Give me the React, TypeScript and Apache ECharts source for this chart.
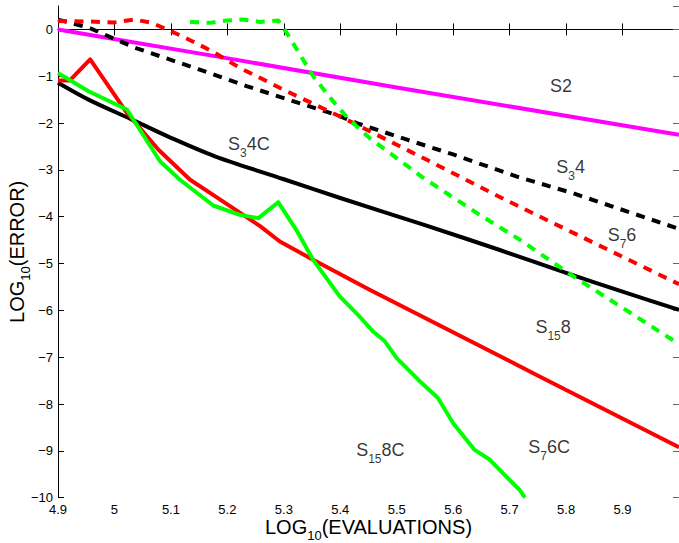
import React, { useEffect, useRef } from "react";
import * as echarts from "echarts";

// x axis (log10 evaluations) and y axis (log10 error) ranges
const X_MIN = 4.9;
const X_MAX = 6.0;
const X_STEP = 0.1;
const Y_MIN = -10;
const Y_MAX = 0.5;
const Y_STEP = 1;

// series: [log10(evaluations), log10(error)]
const S2 = [[4.9, 0.0], [5.178, -0.57], [5.5, -1.24], [6.0, -2.25]];
const S3_4C = [
  [4.9, -1.14], [4.954, -1.5], [5.03, -1.92], [5.101, -2.32], [5.178, -2.71],
  [5.3, -3.2], [5.4, -3.6], [5.55, -4.18], [5.68, -4.7], [5.8, -5.2], [5.9, -5.6], [6.0, -5.99],
];
const S7_6C = [
  [4.9, -1.09], [4.921, -1.09], [4.957, -0.64], [5.022, -1.78], [5.078, -2.57],
  [5.134, -3.21], [5.178, -3.56], [5.258, -4.2], [5.293, -4.53], [5.346, -4.88],
  [5.452, -5.56], [5.753, -7.41], [6.0, -8.92],
];
const S15_8C = [
  [4.9, -0.93], [4.954, -1.32], [5.022, -1.71], [5.081, -2.82], [5.116, -3.21],
  [5.175, -3.76], [5.222, -3.96], [5.255, -4.03], [5.29, -3.69], [5.322, -4.28],
  [5.352, -4.92], [5.399, -5.7], [5.434, -6.13], [5.458, -6.45], [5.479, -6.66],
  [5.5, -7.02], [5.538, -7.48], [5.573, -7.87], [5.6, -8.41], [5.638, -8.98],
  [5.665, -9.19], [5.694, -9.55], [5.718, -9.84], [5.727, -10.0],
];
const S3_4 = [
  [4.9, 0.21], [4.954, 0.04], [5.036, -0.39], [5.095, -0.63], [5.151, -0.86],
  [5.234, -1.21], [5.316, -1.53], [5.399, -1.85], [5.429, -2.0], [5.517, -2.35],
  [5.6, -2.67], [5.712, -3.14], [5.81, -3.49], [6.0, -4.26],
];
const S7_6 = [
  [4.9, 0.18], [4.95, 0.17], [5.0, 0.15], [5.036, 0.21], [5.066, 0.14],
  [5.119, -0.14], [5.172, -0.46], [5.222, -0.82], [5.305, -1.32], [5.405, -1.89],
  [5.458, -2.21], [5.564, -2.85], [5.691, -3.63], [5.899, -4.85], [6.0, -5.44],
];
const S15_8 = [
  [5.134, 0.16], [5.169, 0.14], [5.199, 0.19], [5.228, 0.21], [5.258, 0.16],
  [5.29, 0.19], [5.305, -0.07], [5.352, -1.0], [5.387, -1.53], [5.408, -1.82],
  [5.429, -2.07], [5.452, -2.32], [5.547, -3.17], [5.647, -3.96], [5.718, -4.49],
  [5.81, -5.25], [6.0, -6.72],
];

// curve annotations
const LABEL_TEXTS = [
  "{m|S2}",
  "{m|S}{s|3}{m|4}",
  "{m|S}{s|7}{m|6}",
  "{m|S}{s|15}{m|8}",
  "{m|S}{s|15}{m|8C}",
  "{m|S}{s|7}{m|6C}",
  "{m|S}{s|3}{m|4C}",
];
const LABEL_POS = [
  [5.791, -1.28],
  [5.808, -3.01],
  [5.899, -4.45],
  [5.777, -6.41],
  [5.471, -9.05],
  [5.77, -8.98],
  [5.238, -2.51],
];

const FONT = "'Liberation Sans', Arial, Helvetica, sans-serif";
const DASH = [9, 7.5];

const rich = {
  m: { fontSize: 18, lineHeight: 18, padding: [0, 0, 6, 0], verticalAlign: "bottom", color: "#000", fontFamily: FONT },
  s: { fontSize: 12, lineHeight: 12, verticalAlign: "bottom", color: "#000", fontFamily: FONT },
};
const nameRich = {
  m: { fontSize: 20, lineHeight: 20, padding: [0, 0, 5, 0], verticalAlign: "bottom", color: "#000", fontFamily: FONT },
  s: { fontSize: 13, lineHeight: 13, verticalAlign: "bottom", color: "#000", fontFamily: FONT },
};

function lineSeries(data: number[][], color: string, dashed: boolean, z: number, smooth = 0) {
  return {
    type: "line",
    data,
    symbol: "none",
    z,
    smooth,
    lineStyle: { color, width: 4, type: dashed ? DASH : "solid", cap: "butt", join: "round" },
  };
}

export default function App() {
  const ref = useRef<HTMLDivElement>(null);
  useEffect(() => {
    if (!ref.current) return;
    const chart = echarts.init(ref.current, null, { renderer: "svg" });
    const fmtY = (v: number) => (v < 0 ? "\u2212" + Math.abs(v) : String(v));
    const tickCommon = { show: true, inside: true, length: 6, lineStyle: { color: "#000", width: 1 } };
    chart.setOption({
      animation: false,
      backgroundColor: "#fff",
      grid: { left: 58, right: 0, top: 6, bottom: 45.3, containLabel: false, outerBoundsMode: "none" },
      xAxis: [
        {
          type: "value",
          min: X_MIN,
          max: X_MAX,
          interval: X_STEP,
          splitLine: { show: false },
          axisLine: { show: true, lineStyle: { color: "#000", width: 1 } },
          axisTick: tickCommon,
          axisLabel: {
            color: "#000",
            fontSize: 13,
            fontFamily: FONT,
            margin: 5,
            showMaxLabel: false,
            formatter: (v: number) => String(Math.round(v * 10) / 10),
          },
          name: "{m|LOG}{s|10}{m|(EVALUATIONS)}",
          nameLocation: "middle",
          nameGap: 24,
          nameMoveOverlap: false,
          nameTextStyle: { rich: nameRich },
        },
        {
          type: "value",
          position: "top",
          min: X_MIN,
          max: X_MAX,
          interval: X_STEP,
          splitLine: { show: false },
          axisLine: { show: true, lineStyle: { color: "#000", width: 1 } },
          axisTick: tickCommon,
          axisLabel: { show: false },
        },
      ],
      yAxis: [
        {
          type: "value",
          min: Y_MIN,
          max: Y_MAX,
          interval: Y_STEP,
          splitLine: { show: false },
          axisLine: { show: true, lineStyle: { color: "#000", width: 1 } },
          axisTick: tickCommon,
          axisLabel: {
            color: "#000",
            fontSize: 13,
            fontFamily: FONT,
            margin: 5,
            showMaxLabel: false,
            formatter: fmtY,
          },
          name: "{m|LOG}{s|10}{m|(ERROR)}",
          nameLocation: "middle",
          nameGap: 26,
          nameMoveOverlap: false,
          nameTextStyle: { rich: nameRich },
        },
        {
          type: "value",
          position: "right",
          min: Y_MIN,
          max: Y_MAX,
          interval: Y_STEP,
          splitLine: { show: false },
          axisLine: { show: false },
          axisTick: { ...tickCommon, lineStyle: { color: "#666", width: 1 } },
          axisLabel: { show: false },
        },
      ],
      series: [
        lineSeries(S2, "#ff00ff", false, 2),
        lineSeries(S3_4C, "#000000", false, 3, 0.3),
        lineSeries(S7_6C, "#ff0000", false, 4),
        lineSeries(S15_8C, "#00ff00", false, 5),
        lineSeries(S3_4, "#000000", true, 6),
        lineSeries(S7_6, "#ff0000", true, 7),
        lineSeries(S15_8, "#00ff00", true, 8),
        {
          type: "scatter",
          symbolSize: 0,
          z: 10,
          data: LABEL_POS.map((p, i) => ({ value: p, name: LABEL_TEXTS[i] })),
          label: {
            show: true,
            position: "inside",
            offset: [0, 3],
            formatter: (p: any) => p.name,
            rich,
          },
        },
      ],
    });
    return () => chart.dispose();
  }, []);
  return <div ref={ref} style={{ position: "fixed", left: 0, top: 0, width: 679, height: 543 }} />;
}
